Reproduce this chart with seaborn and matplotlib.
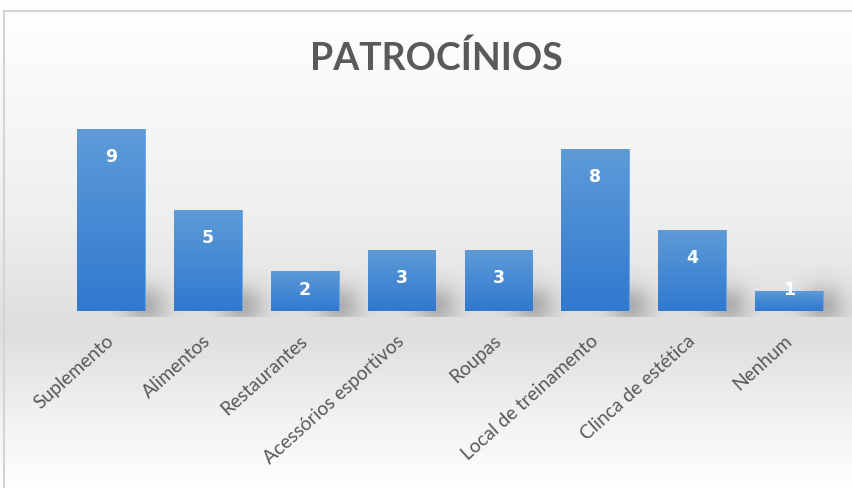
import numpy as np
import pandas as pd
import matplotlib
matplotlib.use("Agg")
import matplotlib.pyplot as plt
from matplotlib.patches import Rectangle
from matplotlib.colors import LinearSegmentedColormap
import seaborn as sns

categories = ["Suplemento", "Alimentos", "Restaurantes", "Acessórios esportivos",
              "Roupas", "Local de treinamento", "Clinca de estética", "Nenhum"]
values = [9, 5, 2, 3, 3, 8, 4, 1]
title = "PATROCÍNIOS"

df = pd.DataFrame({"cat": categories, "val": values})

sns.set_theme(style="white")
plt.rcParams["font.family"] = ["Lato", "DejaVu Sans"]

W, H = 853, 489
fig = plt.figure(figsize=(W / 100, H / 100), dpi=100)

# background gradient
bg = fig.add_axes([0, 0, 1, 1], zorder=-10)
ys = np.linspace(0, 1, 400)  # 0 = top
def bgval(t):
    pts_t = [0.0, 0.12, 0.45, 0.68, 0.85, 1.0]
    pts_v = [1.0, 0.985, 0.935, 0.87, 0.945, 1.0]
    return np.interp(t, pts_t, pts_v)
g = bgval(ys)[:, None]
img = np.dstack([g, g, g])
bg.imshow(img, aspect="auto", extent=[0, 1, 0, 1], origin="upper")
bg.set_axis_off()
# border
fig.patches.append(Rectangle((4 / W, -0.1), 1.2, 1 - 12 / H + 0.1, transform=fig.transFigure,
                             fill=False, edgecolor="#d4d4d4", linewidth=1.5, zorder=-5))

ax = fig.add_axes([62.5 / W, 1 - 312 / H, (837.5 - 62.5) / W, (312 - 110) / H])
ax.patch.set_alpha(0)
sns.barplot(data=df, x="cat", y="val", color="#4a8fd6", width=0.70, ax=ax,
            saturation=1, edgecolor="#6aa6e0", linewidth=0.6)
ax.set_ylim(0, 10)
ax.set_xlim(-0.5, len(categories) - 0.5)

# gradient fill for bars + soft shadows
cmap = LinearSegmentedColormap.from_list("bar", ["#3079cf", "#5e9bd8"])
grad = np.linspace(0, 1, 256)[:, None]
for p in list(ax.patches):
    x0, y0 = p.get_x(), p.get_y()
    w, h = p.get_width(), p.get_height()
    # shadow
    sx0, sx1 = x0 + w * 0.3, x0 + w + 0.45
    sy0, sy1 = -0.3, 3.5
    xx = np.linspace(sx0, sx1, 120)
    yy = np.linspace(sy0, sy1, 120)
    X, Y = np.meshgrid(xx, yy)
    cx, cy = x0 + w, 0.25
    a = 0.38 * np.exp(-((X - cx) / 0.22) ** 2 - ((Y - cy) / 1.0) ** 2)
    rgba = np.zeros((120, 120, 4))
    rgba[..., :3] = 0.35
    rgba[..., 3] = a
    sh = ax.imshow(rgba, aspect="auto", origin="lower", extent=[sx0, sx1, sy0, sy1],
                   zorder=0.5, interpolation="bilinear")
    sh.set_clip_on(False)
    im = ax.imshow(grad, cmap=cmap, aspect="auto", origin="lower",
                   extent=[x0, x0 + w, y0, y0 + h], zorder=p.get_zorder() + 0.1)
    im.set_clip_path(p)
ax.set_xlim(-0.5, len(categories) - 0.5)
ax.set_ylim(0, 10)

# value labels
for i, v in enumerate(values):
    off = min(1.34, v - 1.09)
    ax.text(i, v - off, str(v), ha="center", va="center", color="white",
            fontsize=12.5, fontweight="bold", family=["DejaVu Sans"], zorder=5)

for s in ax.spines.values():
    s.set_visible(False)
ax.set_yticks([])
ax.set_xlabel("")
ax.set_ylabel("")
ax.tick_params(axis="x", length=0, pad=19)
ax.set_xticks(range(len(categories)))
ax.set_xticklabels(categories, rotation=42, ha="right", va="center",
                   rotation_mode="anchor", fontsize=13.8, color="#595959")

fig.text(436 / W, 1 - 58 / H, title, ha="center", va="center", fontsize=27,
         fontweight="bold", color="#595959")

fig.savefig("out.png", dpi=100)
